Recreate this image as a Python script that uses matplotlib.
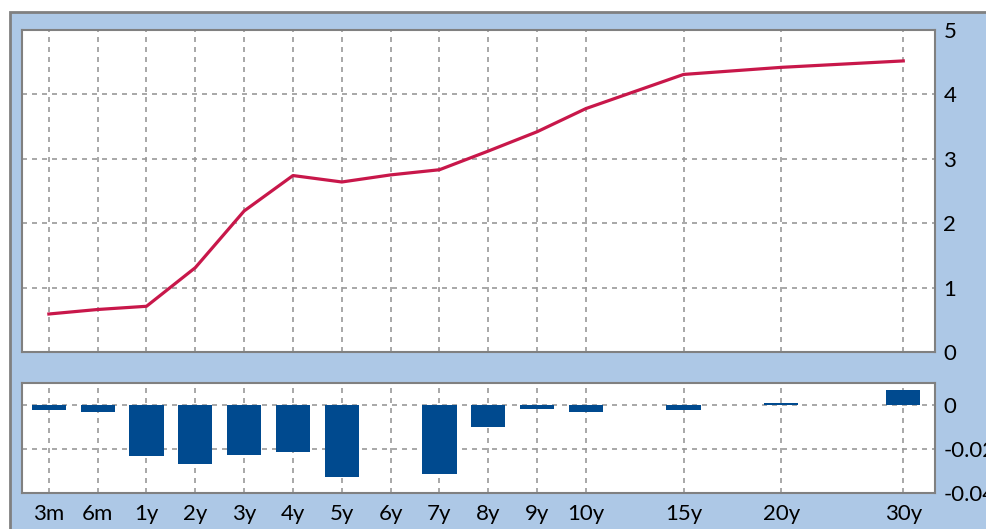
import matplotlib.pyplot as plt
from matplotlib.patches import Rectangle

# Maturities and where they sit on the (non-linear) x axis
maturities = ["3m", "6m", "1y", "2y", "3y", "4y", "5y", "6y", "7y", "8y", "9y", "10y", "15y", "20y", "30y"]
x_pos = [0, 1, 2, 3, 4, 5, 6, 7, 8, 9, 10, 11, 13, 15, 17.5]

# Yield curve (top) and daily change (bottom)
yields = [0.59, 0.66, 0.71, 1.31, 2.19, 2.74, 2.64, 2.75, 2.83, 3.12, 3.42, 3.78, 4.31, 4.42, 4.52]
changes = [-0.0020, -0.0033, -0.0230, -0.0268, -0.0229, -0.0212, -0.0326, 0.0,
           -0.0314, -0.0099, -0.0017, -0.0030, -0.0023, 0.0010, 0.0067]

top_ticks = [0, 1, 2, 3, 4, 5]
top_labels = ["0", "1", "2", "3", "4", "5"]
bot_ticks = [-0.04, -0.02, 0]
bot_labels = ["-0.04", "-0.02", "0"]

bg = "#adc8e6"
frame = "#808080"
line_col = "#c8174a"
bar_col = "#004a8f"

plt.rcParams['font.family'] = ['Lato', 'DejaVu Sans']

W, H = 987, 529
fig = plt.figure(figsize=(W / 100, H / 100), dpi=100, facecolor="white")
fig.patches.append(Rectangle((10 / W, -0.01), 1.0, 1 - 12 / H + 0.01, transform=fig.transFigure,
                             facecolor=bg, edgecolor=frame, linewidth=2, zorder=-10))

ax1 = fig.add_axes([22 / W, 1 - 352 / H, (935 - 22) / W, (352 - 30) / H])
ax2 = fig.add_axes([22 / W, 1 - 493 / H, (935 - 22) / W, (493 - 383) / H])

xlim = (-0.55, 18.15)

ax1.plot(x_pos, yields, color=line_col, linewidth=2.3, zorder=3)
ax1.set_ylim(0, 5)
ax1.set_yticks(top_ticks, top_labels)

ax2.bar(x_pos, changes, width=0.7, color=bar_col, zorder=3)
ax2.set_ylim(-0.04, 0.0101)
ax2.set_yticks(bot_ticks, bot_labels)

for ax in (ax1, ax2):
    ax.set_facecolor("white")
    ax.set_xlim(*xlim)
    ax.set_xticks(x_pos, maturities)
    ax.yaxis.tick_right()
    ax.tick_params(axis="both", length=0, labelsize=16, colors="black")
    ax.tick_params(axis="y", pad=6)
    ax.tick_params(axis="x", pad=8)
    ax.grid(True, color="#999999", linestyle=(0, (3, 3)), linewidth=1.2)
    for s in ax.spines.values():
        s.set_color(frame)
        s.set_linewidth(1.5)

ax1.tick_params(axis="x", labelbottom=False)

fig.savefig("out.png", dpi=100, facecolor=fig.get_facecolor())
